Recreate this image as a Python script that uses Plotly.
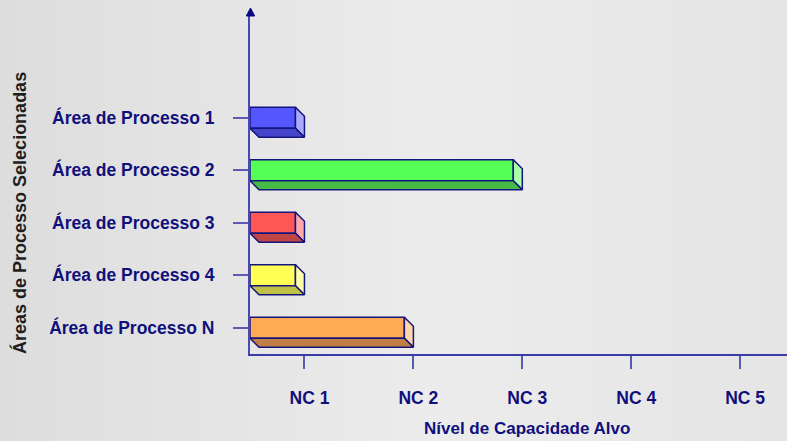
import base64
import plotly.graph_objects as go

# ---------------- data ----------------
areas = ["Área de Processo 1", "Área de Processo 2", "Área de Processo 3",
         "Área de Processo 4", "Área de Processo N"]
levels = [1, 3, 1, 1, 2]
nc_vals = [1, 2, 3, 4, 5]
nc_labels = ["NC 1", "NC 2", "NC 3", "NC 4", "NC 5"]
x_title = "Nível de Capacidade Alvo"
y_title = "Áreas de Processo Selecionadas"

front_colors = ["#5656ff", "#56ff56", "#ff5656", "#ffff56", "#ffab56"]
side_colors = ["#aaaaff", "#aaffaa", "#ffaaaa", "#ffffaa", "#ffd6aa"]
bottom_colors = ["#4545cc", "#45bb45", "#c04545", "#c0c045", "#c08045"]

# ---------------- style ----------------
NAVY = "#10107c"
EDGE = "#14147e"
AXIS = "#3c3ca6"
FONT = "Liberation Sans"
X0 = 0.5            # axis origin
DX = 9 / 108.75     # 3D depth in x units
DY = 9 / 52.5       # 3D depth in y units
H = 0.2             # half bar thickness

pos = [len(areas) - 1 - i for i in range(len(areas))]  # first area on top

fig = go.Figure()

# front faces
fig.add_trace(go.Bar(
    y=pos, x=[v - DX - X0 for v in levels], base=X0, orientation="h",
    width=2 * H, marker=dict(color=front_colors, line=dict(color=EDGE, width=1.5)),
    hoverinfo="skip", showlegend=False))

# 3D side and bottom faces
for v, p, sc, bc in zip(levels, pos, side_colors, bottom_colors):
    fig.add_trace(go.Scatter(
        x=[v - DX, v, v, v - DX, v - DX],
        y=[p + H, p + H - DY, p - H - DY, p - H, p + H],
        mode="lines", fill="toself", fillcolor=sc,
        line=dict(color=EDGE, width=1.5), hoverinfo="skip", showlegend=False))
    fig.add_trace(go.Scatter(
        x=[X0, v - DX, v, X0 + DX, X0],
        y=[p - H, p - H, p - H - DY, p - H - DY, p - H],
        mode="lines", fill="toself", fillcolor=bc,
        line=dict(color=EDGE, width=1.5), hoverinfo="skip", showlegend=False))

# background gradient
svg = ('<svg xmlns="http://www.w3.org/2000/svg" width="787" height="441">'
       '<defs><linearGradient id="g" x1="0" y1="0" x2="1" y2="0">'
       '<stop offset="0" stop-color="#dddddd"/>'
       '<stop offset="0.55" stop-color="#ececec"/>'
       '<stop offset="1" stop-color="#e5e5e5"/>'
       '</linearGradient></defs>'
       '<rect width="787" height="441" fill="url(#g)"/></svg>')
src = "data:image/svg+xml;base64," + base64.b64encode(svg.encode()).decode()

L, R, T, B = 250, 0, 16, 87
W, Hh = 787 - L - R, 441 - T - B


def px(x):
    return (x - L) / W


def py(y):
    return (441 - B - y) / Hh


fig.update_layout(
    width=787, height=441,
    margin=dict(l=L, r=R, t=T, b=B),
    paper_bgcolor="#e8e8e8", plot_bgcolor="rgba(0,0,0,0)",
    images=[dict(source=src, xref="paper", yref="paper",
                 x=px(0), y=py(0), sizex=787 / W, sizey=441 / Hh,
                 xanchor="left", yanchor="top", sizing="stretch", layer="below")],
    xaxis=dict(range=[X0, 5.43], tickvals=nc_vals, ticktext=nc_labels,
               showgrid=False, zeroline=False, showline=True,
               linecolor=AXIS, linewidth=2, ticks="outside", ticklen=13,
               tickwidth=2, tickcolor="#5a5ab2", ticklabelshift=5,
               ticklabelstandoff=14,
               tickfont=dict(family=FONT, size=17.5, color=NAVY, weight="bold")),
    yaxis=dict(range=[-0.5, 5.94], tickvals=pos, ticktext=areas,
               showgrid=False, zeroline=False, showline=True,
               linecolor="#4848b0", linewidth=2, ticks="outside", ticklen=15,
               tickwidth=2, tickcolor="#5a5ab2", ticklabelstandoff=15,
               tickfont=dict(family=FONT, size=17.5, color=NAVY, weight="bold")),
    shapes=[dict(type="path", xref="paper", yref="paper",
                 path=f"M {px(246.3)},{py(16)} L {px(250.5)},{py(8)} L {px(254.7)},{py(16)} Z",
                 fillcolor="#0a0a80", line=dict(color="#0a0a80", width=1))],
    annotations=[
        dict(text=x_title, xref="paper", yref="paper", x=px(527), y=py(429),
             xanchor="center", yanchor="middle", showarrow=False,
             font=dict(family=FONT, size=17, color=NAVY, weight="bold")),
        dict(text=y_title, xref="paper", yref="paper", x=px(19), y=py(213),
             xanchor="center", yanchor="middle", showarrow=False, textangle=-90,
             font=dict(family=FONT, size=18, color="#1e1e1e", weight="bold")),
    ],
)

fig.write_html("out.html")
